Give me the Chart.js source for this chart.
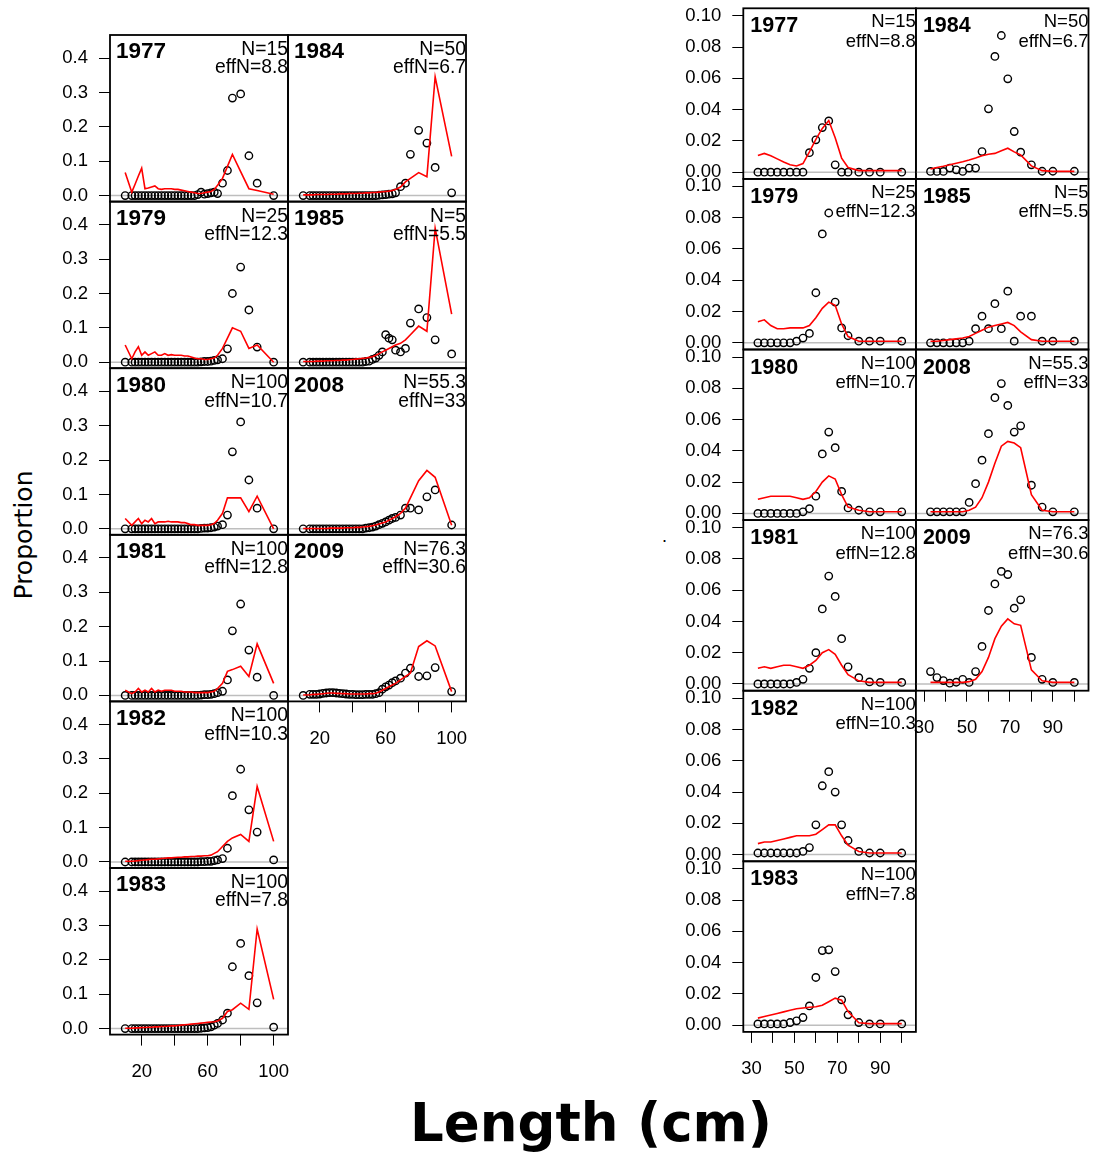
<!DOCTYPE html>
<html>
<head>
<meta charset="utf-8">
<script src="https://cdn.jsdelivr.net/npm/chart.js@4.4.0/dist/chart.umd.min.js"></script>
<style>
  body { margin: 0; background: #fff; width: 1094px; height: 1158px; position: relative; overflow: hidden; }
  canvas { position: absolute; }
  .lab { position: absolute; color: #000; white-space: nowrap; }
  #ylab { left: 23px; top: 535px; transform: translate(-50%, -50%) rotate(-90deg); font: 25px "DejaVu Sans", sans-serif; }
  #xlab { left: 591px; top: 1122px; transform: translate(-50%, -50%); font: bold 53px "DejaVu Sans", sans-serif; }
  #dot { left: 662px; top: 526px; font: 18px "Liberation Sans", Arial, sans-serif; }
</style>
</head>
<body>
<div class="lab" id="ylab">Proportion</div>
<div class="lab" id="xlab">Length (cm)</div>
<div class="lab" id="dot">.</div>
<script>
// length bins (cm)
const binsL = [10, 14, 16, 18, 20, 22, 24, 26, 28, 30, 32, 34, 36, 38, 40, 42, 44, 46, 48, 50,
               52, 54, 56, 58, 60, 62, 64, 66, 69, 72, 75, 80, 85, 90, 100];
const binsR = [33, 36, 39, 42, 45, 48, 51, 54, 57, 60, 63, 66, 69, 72, 75, 80, 85, 90, 100];

// axis ticks
const xTicksL = [20, 40, 60, 80, 100];
const xLabelsL = [20, 60, 100];
const yTicksL = [0, 0.1, 0.2, 0.3, 0.4];
const xTicksR = [30, 40, 50, 60, 70, 80, 90, 100];
const xLabelsR = [30, 50, 70, 90];
const yTicksR = [0, 0.02, 0.04, 0.06, 0.08, 0.1];

// panel headers
const yearsL = ['1977', '1979', '1980', '1981', '1982', '1983', '1984', '1985', '2008', '2009'];
const nLabels = ['N=15', 'N=25', 'N=100', 'N=100', 'N=100', 'N=100', 'N=50', 'N=5', 'N=55.3', 'N=76.3'];
const effLabels = ['effN=8.8', 'effN=12.3', 'effN=10.7', 'effN=12.8', 'effN=10.3', 'effN=7.8', 'effN=6.7', 'effN=5.5', 'effN=33', 'effN=30.6'];

// left block: observed / expected
const obsL1977 = [0,0,0,0,0, 0,0,0,0,0, 0,0,0,0,0, 0,0,0,0,0, 0,0.003,0.01,0.004,0.006, 0.008,0.01,0.006,0.036,0.073, 0.284,0.296,0.116,0.036,0];
const expL1977 = [0.067,0.01,0.033,0.057,0.08, 0.02,0.022,0.025,0.028,0.02, 0.018,0.02,0.02,0.02,0.018, 0.018,0.016,0.014,0.012,0.01, 0.008,0.006,0.006,0.008,0.01, 0.012,0.018,0.03,0.05,0.085, 0.12,0.07,0.02,0.015,0.004];
const obsL1979 = [0,0,0,0,0, 0,0,0,0,0, 0,0,0,0,0, 0,0,0,0,0, 0,0,0.001,0.002,0.002, 0.003,0.005,0.007,0.01,0.039, 0.2,0.277,0.152,0.044,0];
const expL1979 = [0.05,0.01,0.03,0.045,0.02, 0.03,0.02,0.025,0.03,0.02, 0.02,0.025,0.02,0.022,0.02, 0.02,0.02,0.018,0.018,0.015, 0.012,0.01,0.01,0.008,0.008, 0.01,0.012,0.02,0.04,0.07, 0.1,0.09,0.04,0.05,0];
const obsL1980 = [0,0,0,0,0, 0,0,0,0,0, 0,0,0,0,0, 0,0,0,0,0, 0,0,0.001,0.002,0.002, 0.003,0.005,0.008,0.012,0.04, 0.224,0.311,0.142,0.06,0];
const expL1980 = [0.03,0.01,0.02,0.03,0.015, 0.025,0.02,0.03,0.015,0.02, 0.02,0.02,0.022,0.02,0.02, 0.02,0.018,0.018,0.015,0.012, 0.012,0.01,0.01,0.01,0.01, 0.012,0.015,0.025,0.045,0.09, 0.09,0.09,0.05,0.095,0];
const obsL1981 = [0,0,0,0,0, 0,0,0,0,0, 0,0,0,0,0, 0,0,0,0,0, 0,0,0.001,0.002,0.002, 0.003,0.005,0.008,0.012,0.045, 0.188,0.266,0.132,0.053,0];
const expL1981 = [0.015,0.005,0.01,0.02,0.01, 0.015,0.01,0.02,0.01,0.015, 0.012,0.015,0.015,0.015,0.012, 0.012,0.012,0.01,0.01,0.01, 0.008,0.008,0.008,0.008,0.008, 0.01,0.012,0.02,0.035,0.07, 0.075,0.085,0.055,0.15,0.035];
const obsL1982 = [0,0,0,0,0, 0,0,0,0,0, 0,0,0,0,0, 0,0,0,0,0, 0,0,0.001,0.001,0.002, 0.002,0.004,0.006,0.01,0.04, 0.193,0.27,0.152,0.087,0.006];
const expL1982 = [0.002,0.002,0.003,0.004,0.005, 0.006,0.007,0.008,0.008,0.009, 0.01,0.011,0.012,0.012,0.013, 0.014,0.014,0.015,0.015,0.016, 0.016,0.017,0.017,0.018,0.018, 0.02,0.025,0.03,0.045,0.06, 0.07,0.08,0.06,0.22,0.06];
const obsL1983 = [0,0,0,0,0, 0,0,0,0,0, 0,0,0,0,0, 0,0,0,0,0, 0,0,0.001,0.002,0.003, 0.005,0.01,0.015,0.025,0.045, 0.18,0.248,0.154,0.075,0.004];
const expL1983 = [0.001,0.001,0.002,0.002,0.003, 0.003,0.004,0.004,0.005,0.005, 0.006,0.006,0.007,0.008,0.008, 0.009,0.01,0.011,0.012,0.013, 0.014,0.015,0.016,0.017,0.018, 0.019,0.02,0.022,0.03,0.05, 0.055,0.074,0.056,0.29,0.085];
const obsL1984 = [0,0,0,0,0, 0,0,0,0,0, 0,0,0,0,0, 0,0,0,0,0, 0,0,0.001,0.002,0.003, 0.004,0.005,0.008,0.026,0.036, 0.12,0.19,0.153,0.082,0.008];
const expL1984 = [0.002,0.002,0.002,0.003,0.003, 0.003,0.003,0.004,0.004,0.004, 0.005,0.005,0.005,0.006,0.006, 0.006,0.007,0.007,0.008,0.008, 0.009,0.009,0.01,0.011,0.012, 0.013,0.015,0.018,0.025,0.04, 0.05,0.067,0.055,0.346,0.114];
const obsL1985 = [0,0,0,0,0, 0,0,0,0,0, 0,0,0,0,0, 0,0,0,0.002,0.003, 0.008,0.012,0.02,0.03,0.08, 0.07,0.065,0.035,0.03,0.04, 0.114,0.155,0.13,0.065,0.024];
const expL1985 = [0.002,0.002,0.002,0.003,0.003, 0.003,0.004,0.004,0.004,0.005, 0.005,0.006,0.006,0.007,0.008, 0.009,0.01,0.011,0.012,0.014, 0.016,0.02,0.025,0.03,0.035, 0.04,0.045,0.05,0.055,0.065, 0.08,0.105,0.09,0.39,0.14];
const obsL2008 = [0,0,0,0,0, 0,0,0,0,0, 0,0,0,0,0, 0,0,0,0.002,0.003, 0.005,0.008,0.012,0.016,0.02, 0.025,0.03,0.033,0.04,0.06, 0.06,0.055,0.093,0.113,0.011];
const expL2008 = [0.001,0.001,0.001,0.001,0.001, 0.001,0.001,0.002,0.002,0.002, 0.002,0.002,0.003,0.003,0.003, 0.004,0.004,0.005,0.006,0.007, 0.009,0.011,0.014,0.017,0.02, 0.025,0.03,0.035,0.045,0.06, 0.09,0.14,0.17,0.15,0.01];
const obsL2009 = [0,0.003,0.003,0.003,0.004, 0.006,0.007,0.008,0.008,0.007, 0.006,0.005,0.004,0.003,0.003, 0.002,0.002,0.002,0.003,0.003, 0.003,0.005,0.008,0.018,0.025, 0.03,0.037,0.042,0.05,0.065, 0.079,0.055,0.057,0.081,0.011];
const expL2009 = [0.001,0.002,0.003,0.003,0.004, 0.005,0.006,0.007,0.007,0.006, 0.006,0.005,0.005,0.004,0.004, 0.004,0.004,0.004,0.004,0.005, 0.005,0.006,0.01,0.015,0.02, 0.025,0.03,0.035,0.045,0.055, 0.065,0.142,0.159,0.144,0.011];

// right block: observed / expected
const obsR1977 = [0,0,0,0,0, 0,0,0,0.0125,0.0207, 0.0285,0.0328,0.0047,0,0, 0,0,0,0];
const expR1977 = [0.0106,0.012,0.0105,0.0085,0.0065, 0.0048,0.004,0.0055,0.013,0.021, 0.028,0.033,0.022,0.009,0.003, 0.001,0.001,0.001,0.001];
const obsR1979 = [0,0,0,0,0, 0,0.001,0.003,0.006,0.032, 0.0696,0.083,0.026,0.0095,0.0045, 0.001,0.001,0.001,0.001];
const expR1979 = [0.0134,0.0147,0.011,0.009,0.009, 0.0095,0.0095,0.0095,0.011,0.016, 0.022,0.026,0.024,0.012,0.004, 0.001,0.001,0.001,0.001];
const obsR1980 = [0,0,0,0,0, 0,0,0.001,0.003,0.011, 0.038,0.052,0.042,0.014,0.0035, 0.002,0.001,0.001,0.001];
const expR1980 = [0.009,0.01,0.011,0.011,0.011, 0.011,0.01,0.009,0.01,0.014, 0.02,0.024,0.022,0.012,0.004, 0.002,0.001,0.001,0.001];
const obsR1981 = [0,0,0,0,0, 0,0.001,0.003,0.01,0.02, 0.048,0.069,0.056,0.029,0.011, 0.004,0.0013,0.001,0.001];
const expR1981 = [0.01,0.011,0.01,0.011,0.012, 0.012,0.011,0.01,0.012,0.015, 0.02,0.022,0.019,0.012,0.006, 0.002,0.001,0.001,0.001];
const obsR1982 = [0.001,0.001,0.001,0.001,0.001, 0.001,0.001,0.002,0.0045,0.019, 0.044,0.053,0.04,0.019,0.009, 0.002,0.001,0.001,0.001];
const expR1982 = [0.007,0.008,0.008,0.009,0.01, 0.011,0.012,0.012,0.012,0.013, 0.016,0.019,0.019,0.012,0.006, 0.002,0.001,0.001,0.001];
const obsR1983 = [0.0008,0.0008,0.0008,0.0008,0.0008, 0.0017,0.0028,0.0049,0.0123,0.0305, 0.0477,0.0482,0.0343,0.0162,0.0066, 0.0017,0.0008,0.0008,0.0008];
const expR1983 = [0.0045,0.0055,0.0065,0.0075,0.0085, 0.0095,0.0105,0.011,0.0115,0.0118, 0.0128,0.015,0.0173,0.016,0.0087, 0.0015,0.001,0.001,0.001];
const obsR1984 = [0.0005,0.0005,0.0005,0.0026,0.0015, 0.0005,0.0026,0.0026,0.0132,0.0405, 0.074,0.0874,0.0597,0.026,0.0128, 0.0047,0.0006,0.0006,0.0006];
const expR1984 = [0.002,0.003,0.0038,0.0047,0.0057, 0.0067,0.0078,0.009,0.0105,0.0115, 0.012,0.0137,0.0153,0.013,0.011, 0.004,0.001,0.0005,0.0005];
const obsR1985 = [0,0,0,0,0, 0,0.001,0.009,0.017,0.009, 0.025,0.009,0.033,0.001,0.017, 0.017,0.001,0.001,0.001];
const expR1985 = [0.001,0.001,0.0015,0.002,0.0025, 0.003,0.004,0.006,0.008,0.01, 0.011,0.012,0.013,0.011,0.007, 0.002,0.001,0.001,0.001];
const obsR2008 = [0.001,0.001,0.001,0.001,0.001, 0.001,0.007,0.019,0.034,0.051, 0.074,0.083,0.069,0.052,0.056, 0.018,0.004,0.001,0.001];
const expR2008 = [0.001,0.001,0.001,0.001,0.001, 0.001,0.002,0.004,0.01,0.02, 0.032,0.043,0.046,0.045,0.042, 0.012,0.002,0.001,0.001];
const obsR2009 = [0.0079,0.0041,0.0022,0.0005,0.0011, 0.003,0.001,0.0079,0.024,0.047, 0.064,0.072,0.07,0.0485,0.0538, 0.017,0.003,0.001,0.001];
const expR2009 = [0.001,0.001,0.001,0.001,0.001, 0.001,0.0015,0.003,0.008,0.017, 0.029,0.037,0.0416,0.0385,0.0375, 0.009,0.002,0.001,0.001];

const obsLeft = [obsL1977, obsL1979, obsL1980, obsL1981, obsL1982, obsL1983, obsL1984, obsL1985, obsL2008, obsL2009];
const expLeft = [expL1977, expL1979, expL1980, expL1981, expL1982, expL1983, expL1984, expL1985, expL2008, expL2009];
const obsRight = [obsR1977, obsR1979, obsR1980, obsR1981, obsR1982, obsR1983, obsR1984, obsR1985, obsR2008, obsR2009];
const expRight = [expR1977, expR1979, expR1980, expR1981, expR1982, expR1983, expR1984, expR1985, expR2008, expR2009];

// panel grid: index -> [col, row]
const slots = [[0,0],[0,1],[0,2],[0,3],[0,4],[0,5],[1,0],[1,1],[1,2],[1,3]];

const FONT = '"Liberation Sans", Arial, sans-serif';

const leftBlock = {
  x0: 110, y0: 35, w: 178, h: 166.6,
  xMin: 0.8, xMax: 108.7, yMin: -0.0175, yMax: 0.4675,
  bins: binsL, xTicks: xTicksL, xLabels: xLabelsL, yTicks: yTicksL, dec: 1,
  yearSize: 22.5, nSize: 19.3, yearDy: 23.3, nDy: 20, effDy: 38.3, yearDx: 6,
  obs: obsLeft, exp: expLeft, bottomRow: [5, 3]
};
const rightBlock = {
  x0: 743.3, y0: 8.3, w: 172.6, h: 170.6,
  xMin: 26.2, xMax: 106.6, yMin: -0.0043, yMax: 0.1048,
  bins: binsR, xTicks: xTicksR, xLabels: xLabelsR, yTicks: yTicksR, dec: 2,
  yearSize: 21.5, nSize: 18.5, yearDy: 24, nDy: 19, effDy: 38.4, yearDx: 7,
  obs: obsRight, exp: expRight, bottomRow: [5, 3]
};

const panelDeco = {
  id: 'panelDeco',
  beforeDatasetsDraw(chart) {
    const { ctx, chartArea: a, scales } = chart;
    const y0 = scales.y.getPixelForValue(0);
    ctx.save();
    ctx.strokeStyle = '#bebebe';
    ctx.lineWidth = 1.5;
    ctx.beginPath();
    ctx.moveTo(a.left, y0);
    ctx.lineTo(a.right, y0);
    ctx.stroke();
    ctx.restore();
  },
  afterDraw(chart) {
    const { ctx, chartArea: a } = chart;
    const o = chart.options.plugins.panelDeco;
    ctx.save();
    ctx.strokeStyle = '#000';
    ctx.lineWidth = 1.8;
    ctx.strokeRect(a.left, a.top, a.right - a.left, a.bottom - a.top);
    ctx.fillStyle = '#000';
    ctx.textBaseline = 'alphabetic';
    ctx.font = 'bold ' + o.yearSize + 'px ' + FONT;
    ctx.textAlign = 'left';
    ctx.fillText(o.year, a.left + o.yearDx, a.top + o.yearDy);
    ctx.font = o.nSize + 'px ' + FONT;
    ctx.textAlign = 'right';
    ctx.fillText(o.n, a.right, a.top + o.nDy);
    ctx.fillText(o.eff, a.right, a.top + o.effDy);
    ctx.restore();
  }
};

function makePanel(B, k) {
  const col = slots[k][0], row = slots[k][1];
  const L = B.x0 + col * B.w, T = B.y0 + row * B.h;
  const showY = col === 0;
  const showX = row === B.bottomRow[col];
  const cx = Math.floor(L) - 70, cy = Math.floor(T) - 14;
  const cw = Math.ceil(L + B.w) + 14 - cx, ch = Math.ceil(T + B.h) + 60 - cy;
  const padL = L - cx, padT = T - cy;
  const padR = cw - (L + B.w - cx), padB = ch - (T + B.h - cy);

  const cv = document.createElement('canvas');
  cv.width = cw; cv.height = ch;
  cv.style.left = cx + 'px'; cv.style.top = cy + 'px';
  cv.style.width = cw + 'px'; cv.style.height = ch + 'px';
  document.body.appendChild(cv);

  const obs = B.obs[k], exp = B.exp[k];
  new Chart(cv, {
    type: 'scatter',
    data: {
      datasets: [
        {
          type: 'line',
          data: B.bins.map((x, i) => ({ x: x, y: exp[i] })),
          borderColor: '#ff0000', borderWidth: 1.6, pointRadius: 0,
          fill: false, tension: 0, order: 1
        },
        {
          type: 'scatter',
          data: B.bins.map((x, i) => ({ x: x, y: obs[i] })),
          pointRadius: 3.7, pointBorderWidth: 1.4, borderColor: '#000',
          pointBorderColor: '#000', backgroundColor: 'rgba(0,0,0,0)', order: 2
        }
      ]
    },
    options: {
      responsive: false,
      animation: false,
      events: [],
      layout: { autoPadding: false, padding: { left: 0, top: padT, right: padR, bottom: 0 } },
      plugins: {
        legend: { display: false },
        tooltip: { enabled: false },
        panelDeco: {
          year: yearsL[k], n: nLabels[k], eff: effLabels[k],
          yearSize: B.yearSize, nSize: B.nSize, yearDy: B.yearDy, nDy: B.nDy, effDy: B.effDy, yearDx: B.yearDx
        }
      },
      scales: {
        x: {
          type: 'linear', min: B.xMin, max: B.xMax,
          afterBuildTicks: s => { s.ticks = B.xTicks.map(v => ({ value: v })); },
          afterFit: s => { s.height = padB; s.paddingLeft = 0; s.paddingRight = 0; s.paddingTop = 0; s.paddingBottom = 0; },
          grid: { display: showX, drawOnChartArea: false, drawTicks: true, tickLength: 11, color: '#000', lineWidth: 1 },
          border: { display: false },
          ticks: {
            display: showX, autoSkip: false, maxRotation: 0, minRotation: 0, padding: 15, color: '#000',
            font: { size: 18.5, family: FONT },
            callback: v => (B.xLabels.includes(v) ? String(v) : '')
          }
        },
        y: {
          type: 'linear', min: B.yMin, max: B.yMax,
          afterBuildTicks: s => { s.ticks = B.yTicks.map(v => ({ value: v })); },
          afterFit: s => { s.width = padL; s.paddingTop = 0; s.paddingBottom = 0; s.paddingLeft = 0; s.paddingRight = 0; },
          grid: { display: showY, drawOnChartArea: false, drawTicks: true, tickLength: 11, color: '#000', lineWidth: 1 },
          border: { display: false },
          ticks: {
            display: showY, autoSkip: false, padding: 11, color: '#000',
            font: { size: 18.5, family: FONT },
            callback: v => Number(v).toFixed(B.dec)
          }
        }
      }
    },
    plugins: [panelDeco]
  });
}

for (let k = 0; k < 10; k++) makePanel(leftBlock, k);
for (let k = 0; k < 10; k++) makePanel(rightBlock, k);
</script>
</body>
</html>
